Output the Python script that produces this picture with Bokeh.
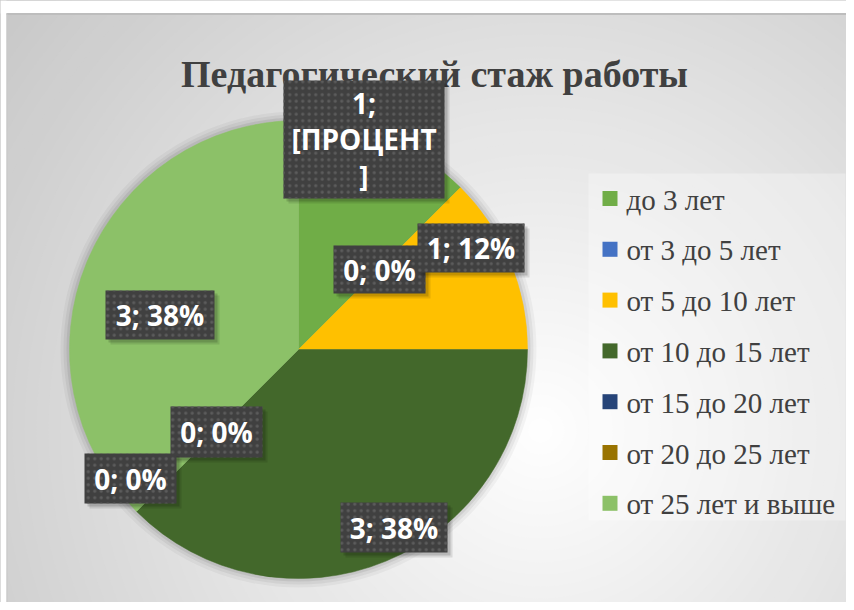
import numpy as np
from bokeh.plotting import figure
from bokeh.models import Range1d, ColumnDataSource
from bokeh.core.properties import value
from bokeh.embed import file_html
from bokeh.resources import INLINE

# ---------------- data ----------------
title_text = "Педагогический стаж работы"
categories = ["до 3 лет", "от 3 до 5 лет", "от 5 до 10 лет", "от 10 до 15 лет",
              "от 15 до 20 лет", "от 20 до 25 лет", "от 25 лет и выше"]
values = [1, 0, 1, 3, 0, 0, 3]
colors = ["#70AD47", "#4472C4", "#FFC000", "#43682B", "#264478", "#997300", "#8CC168"]

total = sum(values)
pcts = [round(v * 100 / total) for v in values]
label_texts = [f"{v}; {p}%" for v, p in zip(values, pcts)]
label_texts[0] = f"{values[0]};\n[ПРОЦЕНТ\n]"

# ---------------- layout (pixel units, y = -screen_y) ----------------
W, H = 846, 602
CX, CY, R = 298, -349, 229
# label boxes: (left, top, right, bottom) in screen px
label_boxes = [(283, 80, 444, 198), (333, 245, 425, 293), (417, 223, 524, 272),
               (340, 502, 447, 552), (170, 406, 262, 457), (84, 453, 176, 503),
               (105, 290, 214, 339)]

p = figure(width=W, height=H, output_backend="svg", toolbar_location=None,
           x_range=Range1d(0, W), y_range=Range1d(-H, 0),
           min_border=0, outline_line_color=None,
           background_fill_color="white", border_fill_color="white")
p.axis.visible = False
p.grid.visible = False

# background radial gradient (decorative)
gr = np.arange(780, 0, -12)
gcol = []
for r in gr:
    g = int(max(192, min(255, 255 - 0.08 * r)))
    gcol.append("#%02x%02x%02x" % (g, g, g))
p.circle(x=[540] * len(gr), y=[-430] * len(gr), radius=gr, fill_color=gcol, line_color=None)

# white strip at the top / left + border
p.quad(left=[0], right=[W], top=[0], bottom=[-13], fill_color="white", line_color=None)
p.quad(left=[0], right=[6], top=[0], bottom=[-H], fill_color="white", line_color=None)
p.segment(x0=[6], y0=[-13.5], x1=[W], y1=[-13.5], line_color="#bdbdbd", line_width=2)
p.segment(x0=[6.5], y0=[-13], x1=[6.5], y1=[-H], line_color="#c8c8c8", line_width=1)

# legend panel
p.quad(left=[588], right=[845], top=[-173], bottom=[-520], fill_color="white",
       fill_alpha=0.3, line_color=None)

# pie shadow
for dr, a in [(9, 0.04), (6, 0.05), (3, 0.07)]:
    p.circle(x=[CX], y=[CY], radius=R + dr, fill_color="black", fill_alpha=a, line_color=None)

# pie
cum = np.concatenate([[0], np.cumsum(values)])
starts = np.pi / 2 - 2 * np.pi * cum[:-1] / total
ends = np.pi / 2 - 2 * np.pi * cum[1:] / total
mask = [v > 0 for v in values]
src_nz = ColumnDataSource(dict(start=starts[mask], end=ends[mask],
                               color=[c for c, m in zip(colors, mask) if m]))
p.wedge(x=CX, y=CY, radius=R, start_angle="start", end_angle="end", direction="clock",
        fill_color="color", line_color="color", line_width=0.5, source=src_nz)

# title
p.text(x=[434], y=[-73], text=[title_text], text_align="center", text_baseline="alphabetic",
       text_font=value("Liberation Serif"), text_font_style="bold",
       text_font_size="38px", text_color="#404040")

# legend
leg_y = [-(198 + 50.8 * i) for i in range(len(categories))]
p.rect(x=[609.5] * len(categories), y=leg_y, width=15, height=15,
       fill_color=colors, line_color=None)
p.text(x=[626] * len(categories), y=[y - 1 for y in leg_y], text=categories,
       text_align="left", text_baseline="middle", text_font=value("Liberation Serif"),
       text_font_size="29px", text_color="#404040")

# data labels
for (l, t, r, b), txt in zip(label_boxes, label_texts):
    for off, a in [(5, 0.10), (3, 0.15)]:
        p.quad(left=[l + off], right=[r + off], top=[-(t + off)], bottom=[-(b + off)],
               fill_color="black", fill_alpha=a, line_color=None)
    p.quad(left=[l], right=[r], top=[-t], bottom=[-b], fill_color="#404040",
           line_color=None, hatch_pattern="dot", hatch_color="#5c5c5c",
           hatch_scale=6.5, hatch_weight=1.5)
    p.text(x=[(l + r) / 2], y=[-(t + b) / 2], text=[txt], text_align="center",
           text_baseline="middle", text_font=value("Open Sans"), text_font_style="bold",
           text_font_size="28px", text_color="white", text_line_height=0.95)

open("out.html", "w").write(file_html(p, INLINE))
